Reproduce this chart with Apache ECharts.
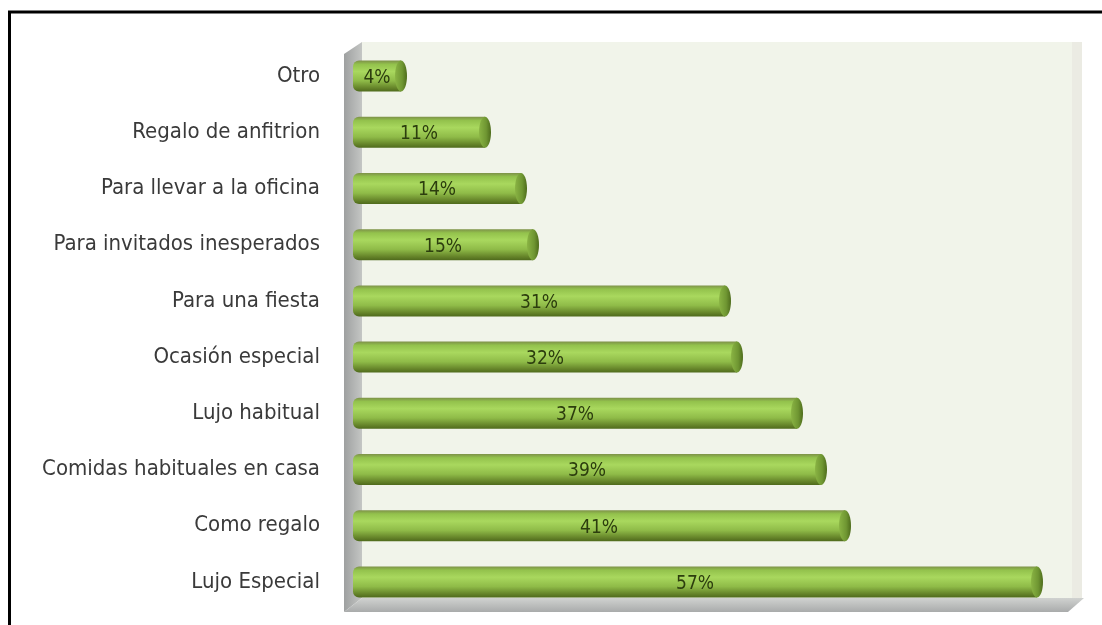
<!DOCTYPE html>
<html>
<head>
<meta charset="utf-8">
<style>
  html, body { margin: 0; padding: 0; background: #ffffff; }
  #chart { width: 1102px; height: 625px; }
</style>
<script src="https://cdn.jsdelivr.net/npm/echarts@6/dist/echarts.min.js"></script>
</head>
<body>
<div id="chart"></div>
<script>
// Reasons for buying, share of respondents (%), bottom to top
const categories = [
  'Lujo Especial',
  'Como regalo',
  'Comidas habituales en casa',
  'Lujo habitual',
  'Ocasión especial',
  'Para una fiesta',
  'Para invitados inesperados',
  'Para llevar a la oficina',
  'Regalo de anfitrion',
  'Otro'
];
const values = [57, 41, 39, 37, 32, 31, 15, 14, 11, 4];

const chart = echarts.init(document.getElementById('chart'));

const GRID = { left: 353, top: 48, width: 720, height: 562 };
const X_MAX = 60;
const NARROW = '"Liberation Sans Narrow", "DejaVu Sans Condensed", sans-serif';

// cylinder body gradient (top dark, bright band, dark bottom)
const bodyFill = new echarts.graphic.LinearGradient(0, 0, 0, 1, [
  { offset: 0, color: '#7d9148' },
  { offset: 0.12, color: '#93c24c' },
  { offset: 0.35, color: '#a9d85e' },
  { offset: 0.65, color: '#8fbb48' },
  { offset: 0.88, color: '#66852a' },
  { offset: 1, color: '#4f6a1c' }
]);
const capFill = new echarts.graphic.LinearGradient(0, 0, 1, 0, [
  { offset: 0, color: '#8ab444' },
  { offset: 0.6, color: '#6f9632' },
  { offset: 1, color: '#4e6c1c' }
]);

function renderCylinder(params, api) {
  const v = api.value(1);
  const yIdx = api.value(0);
  const start = api.coord([0, yIdx]);
  const end = api.coord([v, yIdx]);
  const h = 31;
  const y = start[1] - h / 2;
  const rx = 6;
  return {
    type: 'group',
    children: [
      {
        type: 'rect',
        shape: { x: start[0], y: y, width: end[0] - start[0], height: h, r: [6, 0, 0, 6] },
        style: { fill: bodyFill }
      },
      {
        type: 'ellipse',
        shape: { cx: end[0], cy: start[1], rx: rx, ry: h / 2 },
        style: { fill: capFill }
      },
      {
        type: 'text',
        x: (start[0] + end[0]) / 2,
        y: start[1] + 2,
        style: {
          text: v + '%',
          fill: '#2c3d0e',
          font: '19px ' + NARROW,
          align: 'center',
          verticalAlign: 'middle'
        }
      }
    ]
  };
}

const option = {
  backgroundColor: '#ffffff',
  animation: false,
  graphic: [
    // outer frame
    {
      type: 'rect', z: 0,
      shape: { x: 9.5, y: 12, width: 1110, height: 640 },
      style: { fill: '#ffffff', stroke: '#000000', lineWidth: 3 }
    },
    // back wall
    {
      type: 'rect', z: 1,
      shape: { x: 362, y: 42, width: 710, height: 556 },
      style: { fill: '#f1f4ea' }
    },
    // back wall right edge strip
    {
      type: 'rect', z: 1,
      shape: { x: 1072, y: 42, width: 10, height: 556 },
      style: { fill: '#ebebe3' }
    },
    // left side wall
    {
      type: 'polygon', z: 2,
      shape: { points: [[344, 54], [362, 42], [362, 598], [344, 612]] },
      style: { fill: new echarts.graphic.LinearGradient(0, 0, 1, 0, [
        { offset: 0, color: '#9ea0a0' }, { offset: 1, color: '#c4c6c4' }
      ]) }
    },
    // floor
    {
      type: 'polygon', z: 2,
      shape: { points: [[362, 598], [1084, 598], [1068, 612], [344, 612]] },
      style: { fill: new echarts.graphic.LinearGradient(0, 0, 0, 1, [
        { offset: 0, color: '#d0d2d0' }, { offset: 1, color: '#a9abab' }
      ]) }
    }
  ],
  grid: GRID,
  xAxis: {
    type: 'value',
    min: 0,
    max: X_MAX,
    show: false
  },
  yAxis: {
    type: 'category',
    data: categories,
    axisLine: { show: false },
    axisTick: { show: false },
    splitLine: { show: false },
    axisLabel: {
      margin: 33,
      color: '#3a3a3a',
      fontSize: 22,
      fontFamily: NARROW
    }
  },
  series: [
    {
      type: 'custom',
      z: 5,
      renderItem: renderCylinder,
      encode: { x: 1, y: 0 },
      data: values.map((v, i) => [i, v])
    }
  ]
};

chart.setOption(option);
</script>
</body>
</html>
